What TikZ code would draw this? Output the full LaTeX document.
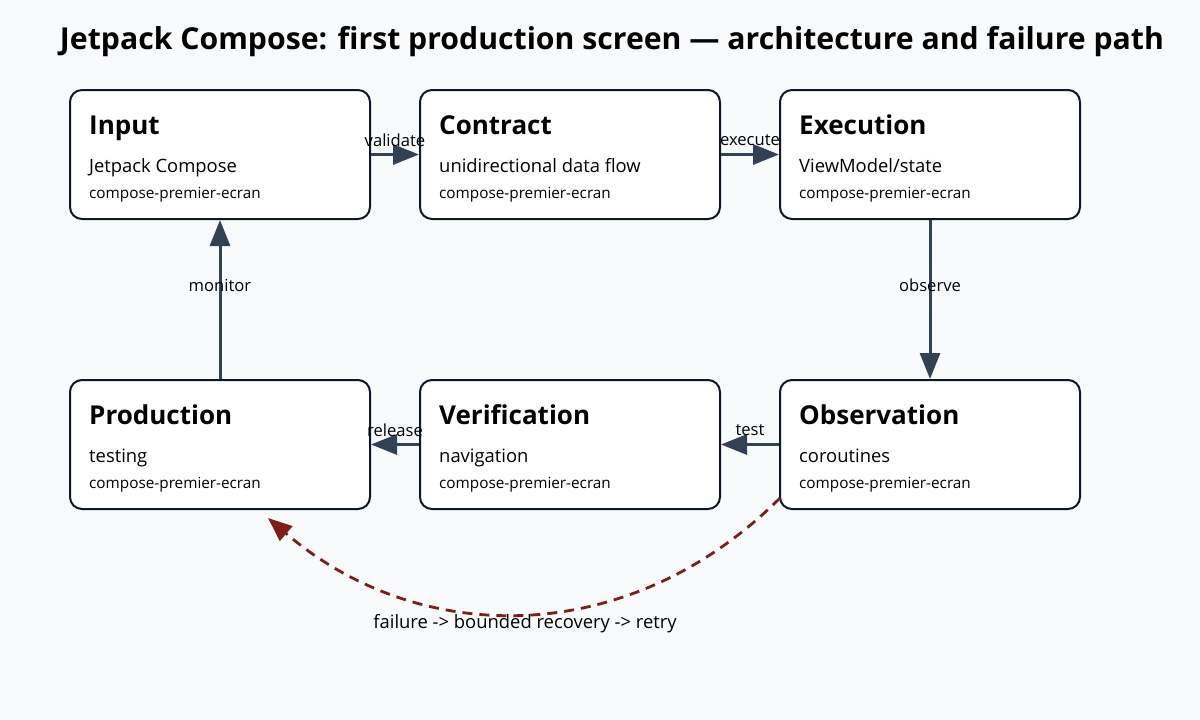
\documentclass[tikz,border=0pt]{standalone}
\usepackage{fontspec}
\setmainfont{Open Sans}
\usepackage{tikz}
\usetikzlibrary{arrows.meta, calc}

\definecolor{bgGray}{HTML}{F8FAFC}
\definecolor{boxLine}{HTML}{0F172A}
\definecolor{flowLine}{HTML}{334155}
\definecolor{failRed}{HTML}{7F1D1D}

\newcommand{\boxText}[4]{%
	\node[anchor=base west, inner sep=0pt, font=\fontsize{26}{30}\selectfont\bfseries] at ($(#1.north west) + (20, 45)$) {#2};
	\node[anchor=base west, inner sep=0pt, font=\fontsize{18.4}{21}\selectfont] at ($(#1.north west) + (20, 83)$) {#3};
	\node[anchor=base west, inner sep=0pt, font=\fontsize{15.3}{17}\selectfont] at ($(#1.north west) + (20, 109)$) {#4};
}

\begin{document}
\begin{tikzpicture}[
	x=1pt, y=-1pt,
	stage/.style={draw=boxLine, fill=white, line width=2pt, rounded corners=12pt,
		minimum width=300pt, minimum height=129pt, inner sep=0pt},
	flow/.style={flowLine, line width=3pt, -{Triangle[length=26pt, width=20pt]}},
	flowLabel/.style={font=\fontsize{16.6}{18}\selectfont, text=black},
	failure/.style={failRed, line width=2.8pt, dash pattern=on 10pt off 7pt,
		-{Triangle[length=24pt, width=19pt]}}
	]
	
	\fill[bgGray] (0, 0) rectangle (1200, 720);
	\useasboundingbox (0, 0) rectangle (1200, 720);
	
	\node[anchor=center, font=\fontsize{30.2}{35}\selectfont\bfseries] (title) at (612, 42) {Jetpack Compose: first production screen — architecture and failure path};
	
	% Row one
	\node [stage] (input) at (220, 154.5) {};
	\node [stage] (contract) at (570, 154.5) {};
	\node [stage] (execution) at (930, 154.5) {};
	
	% Row two
	\node [stage] (production) at (220, 444.5) {};
	\node [stage] (verification) at (570, 444.5) {};
	\node [stage] (observation) at (930, 444.5) {};
	
	\boxText{input}{Input}{Jetpack Compose}{compose-premier-ecran}
	\boxText{contract}{Contract}{unidirectional data flow}{compose-premier-ecran}
	\boxText{execution}{Execution}{ViewModel/state}{compose-premier-ecran}
	\boxText{production}{Production}{testing}{compose-premier-ecran}
	\boxText{verification}{Verification}{navigation}{compose-premier-ecran}
	\boxText{observation}{Observation}{coroutines}{compose-premier-ecran}
	
	% Main path
	\draw [flow] (input.east) -- (contract.west) node [flowLabel, midway, yshift=14pt] {validate};
	\draw [flow] (contract.east) -- (execution.west) node [flowLabel, midway, yshift=14pt] {execute};
	\draw [flow] (execution.south) -- (observation.north) node [flowLabel, midway, yshift=14pt] {observe};
	\draw [flow] (observation.west) -- (verification.east) node [flowLabel, midway, yshift=14pt] {test};
	\draw [flow] (verification.west) -- (production.east) node [flowLabel, midway, yshift=14pt] {release};
	\draw [flow] (production.north) -- (input.south) node [flowLabel, midway, yshift=14pt] {monitor};
	
	% Failure path
	\coordinate (failStart) at (780, 498);
	\coordinate (failEnd) at (268, 518);
	\draw [failure] (failStart) .. controls (630, 648) and (421, 649) .. (failEnd);
	\node [font=\fontsize{18.4}{21}\selectfont] (failText) at (525, 624) {failure -> bounded recovery -> retry};
\end{tikzpicture}
\end{document}
